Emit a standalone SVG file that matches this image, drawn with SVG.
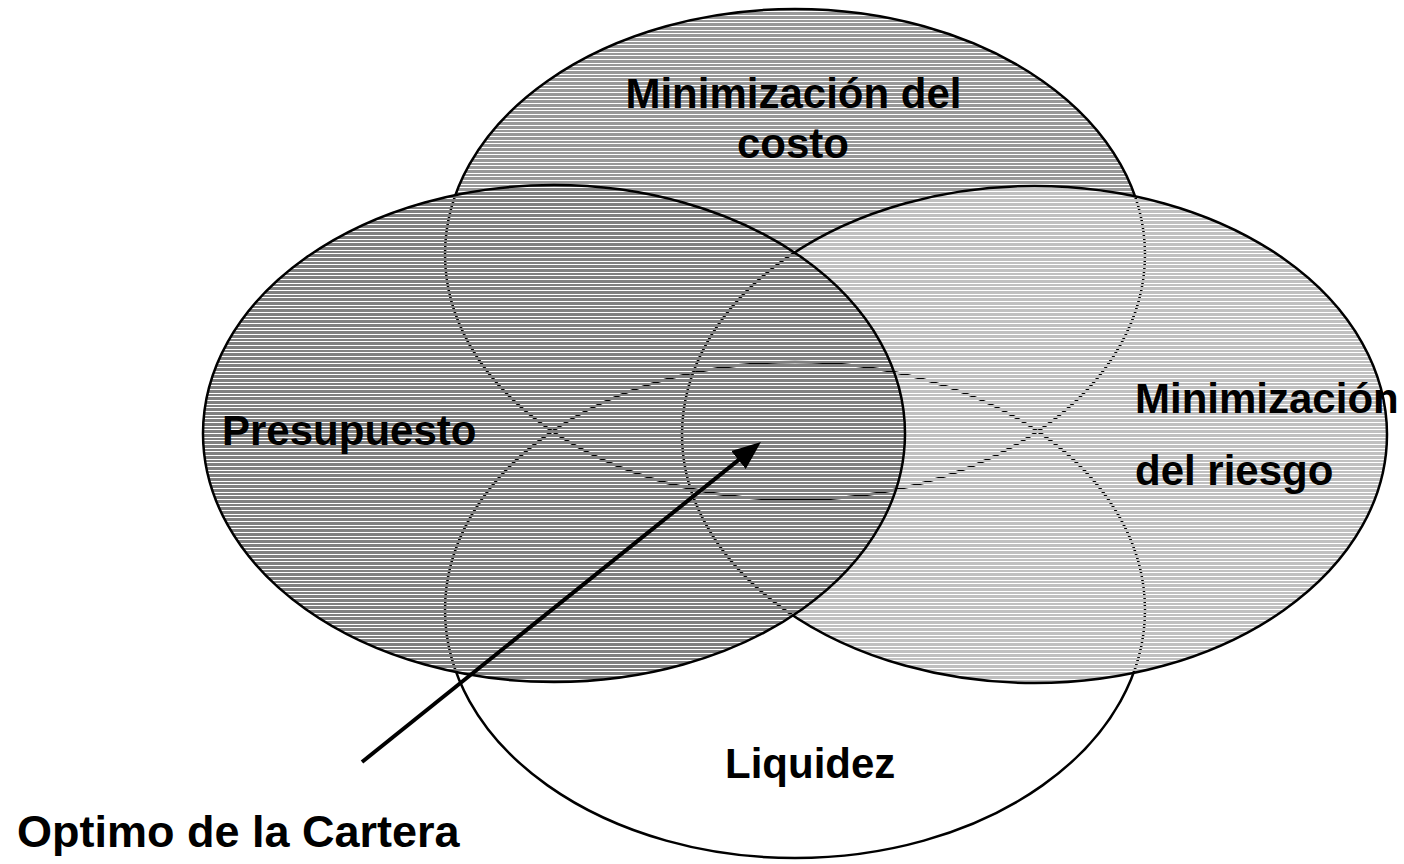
<svg xmlns="http://www.w3.org/2000/svg" width="1404" height="864" viewBox="0 0 1404 864">
  <defs>
    <pattern id="hDark" patternUnits="userSpaceOnUse" x="0" y="0" width="8" height="11">
      <path d="M0,1h8v3h-8z M0,5h8v3h-8z M0,9h8v2h-8z" fill="#808080" shape-rendering="crispEdges"/>
    </pattern>
    <pattern id="hMid" patternUnits="userSpaceOnUse" x="0" y="0" width="8" height="11">
      <path d="M0,1h8v3h-8z M0,5h8v3h-8z M0,9h8v2h-8z" fill="#999999" shape-rendering="crispEdges"/>
    </pattern>
    <pattern id="hLight" patternUnits="userSpaceOnUse" x="0" y="0" width="8" height="11">
      <path d="M0,1h8v3h-8z M0,5h8v3h-8z M0,9h8v2h-8z" fill="#c0c0c0" shape-rendering="crispEdges"/>
    </pattern>
    <marker id="arrowHead" viewBox="0 0 10 8" markerUnits="userSpaceOnUse" markerWidth="29" markerHeight="23" refX="4.8" refY="4" orient="auto">
      <path d="M0,0 L10,4 L0,8 z" fill="#000"/>
    </marker>
  </defs>
  <style>
    .ell { stroke: #000; stroke-width: 2.5; }
    .lbl { font-family: "Liberation Sans", Arial, sans-serif; font-weight: bold; font-size: 42px; fill: #000; }
    .big { font-size: 45px; }
  </style>
  <rect width="1404" height="864" fill="#fff"/>

  <g id="liquidez">
    <ellipse class="ell" cx="795" cy="610" rx="350" ry="248" fill="#fff"/>
  </g>
  <g id="costo">
    <ellipse class="ell" cx="795" cy="254.5" rx="350" ry="245.5" fill="url(#hMid)"/>
  </g>
  <g id="riesgo">
    <ellipse class="ell" cx="1034.5" cy="434.5" rx="352.5" ry="248.5" fill="url(#hLight)"/>
  </g>
  <g id="presupuesto">
    <ellipse class="ell" cx="554" cy="433.5" rx="351" ry="248.5" fill="url(#hDark)"/>
  </g>

  <g id="labels">
    <text class="lbl" x="793.5" y="108" text-anchor="middle">Minimización del</text>
    <text class="lbl" x="793" y="158" text-anchor="middle">costo</text>
    <text class="lbl" x="222" y="445">Presupuesto</text>
    <text class="lbl" x="1135" y="413">Minimización</text>
    <text class="lbl" x="1135" y="485">del riesgo</text>
    <text class="lbl" x="725" y="778">Liquidez</text>
  </g>

  <g id="optimo">
    <text class="lbl big" x="17" y="847">Optimo de la Cartera</text>
  </g>

  <g id="connectors">
    <line x1="362" y1="762" x2="749.3" y2="451.4" stroke="#000" stroke-width="4" marker-end="url(#arrowHead)"/>
  </g>
</svg>
